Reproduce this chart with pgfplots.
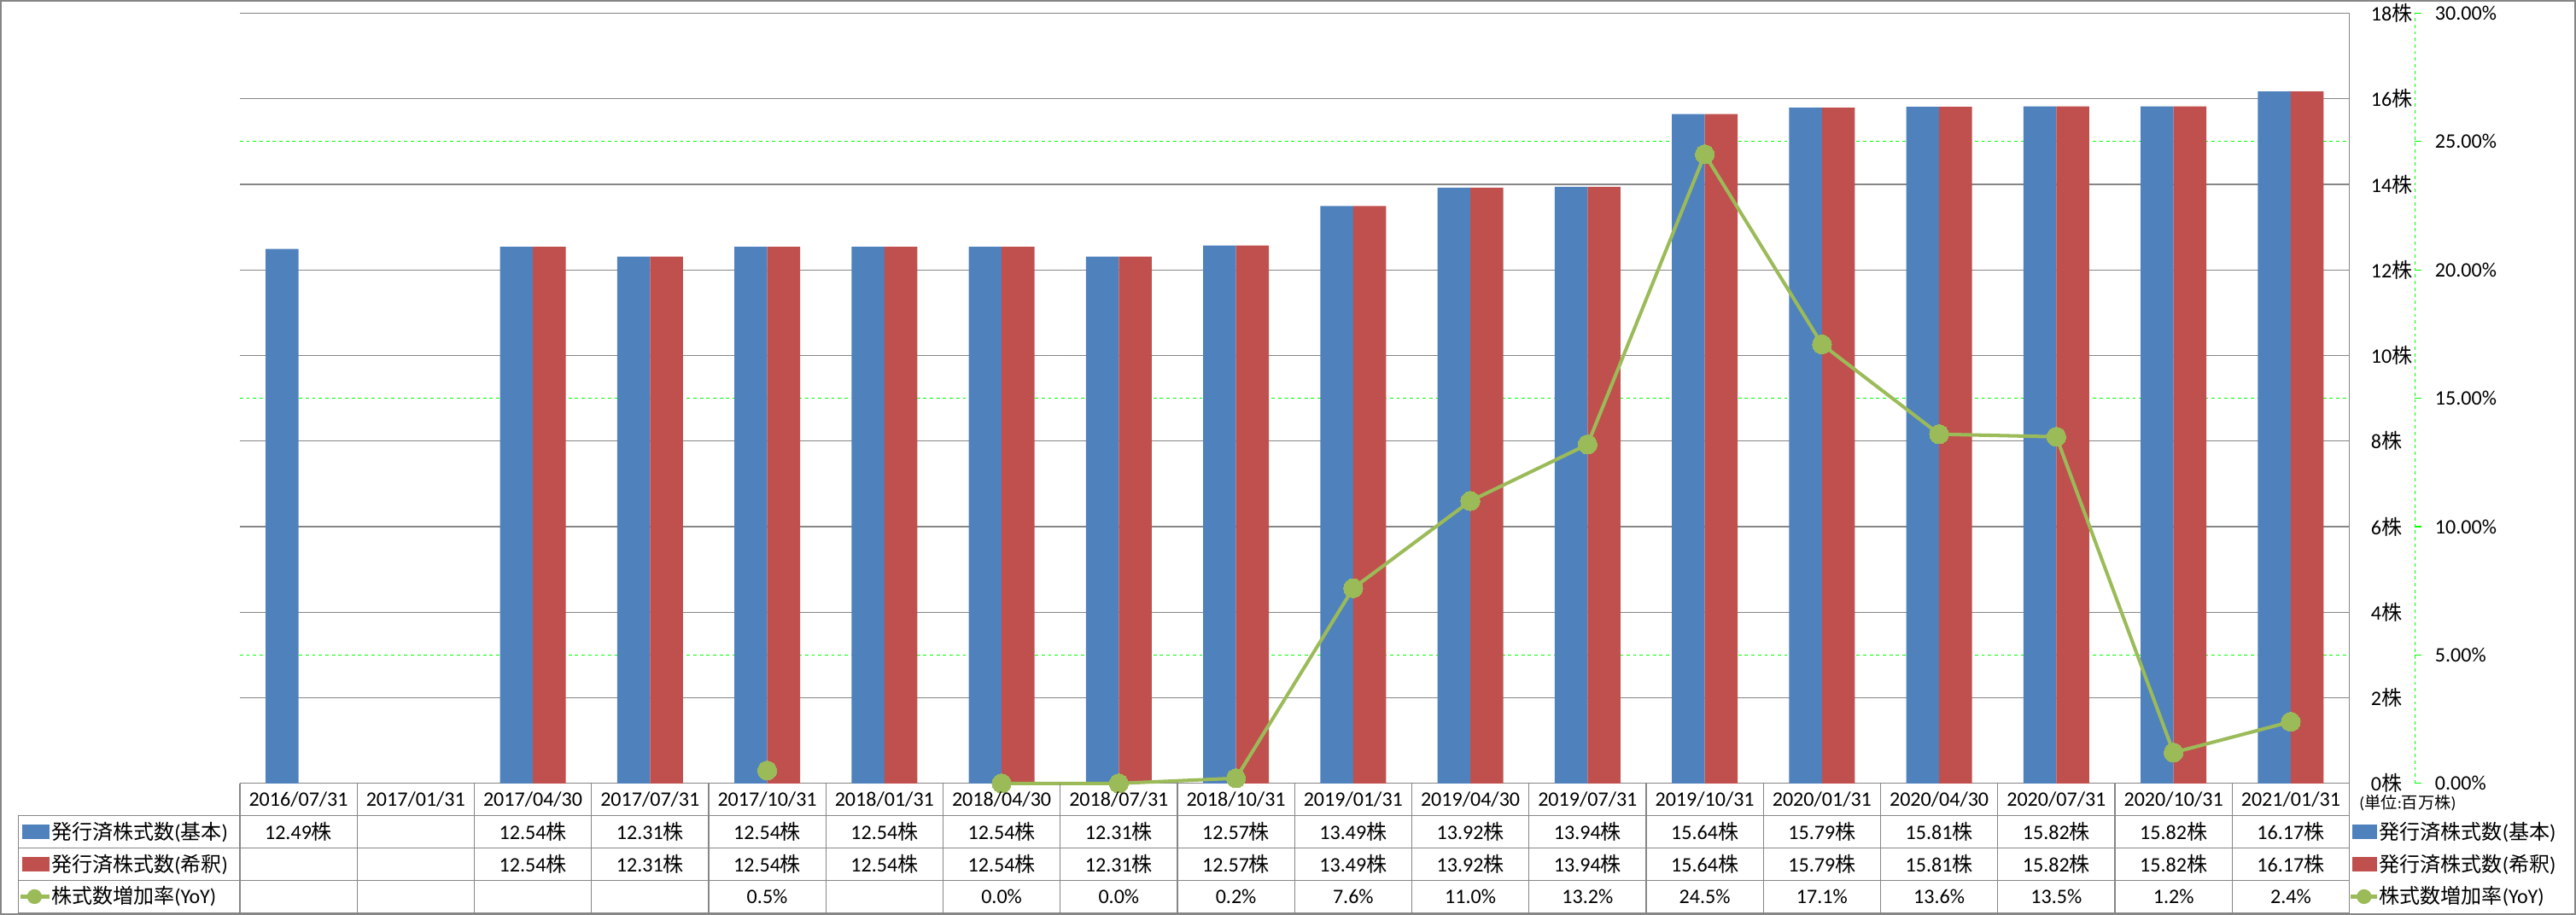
\documentclass[border=0pt]{standalone}
\usepackage{fontspec}
\setmainfont{Carlito}
\newfontfamily\cjk{Noto Sans CJK JP}
\usepackage{pgfplots}
\usepackage{pgfplotstable}
\pgfplotsset{compat=1.18}
\definecolor{barblue}{HTML}{4F81BD}
\definecolor{barred}{HTML}{C0504D}
\definecolor{linegreen}{HTML}{9BBB59}
\definecolor{gridgray}{HTML}{868686}
\definecolor{brightgreen}{HTML}{00FF00}
\newcommand\kabu{{\cjk 株}}
\pgfplotstableread{
x basic diluted yoy
0 12.49 nan nan
1 nan nan nan
2 12.54 12.54 nan
3 12.31 12.31 nan
4 12.54 12.54 0.5
5 12.54 12.54 nan
6 12.54 12.54 0.0
7 12.31 12.31 0.0
8 12.57 12.57 0.2
9 13.49 13.49 7.6
10 13.92 13.92 11.0
11 13.94 13.94 13.2
12 15.64 15.64 24.5
13 15.79 15.79 17.1
14 15.81 15.81 13.6
15 15.82 15.82 13.5
16 15.82 15.82 1.2
17 16.17 16.17 2.4
}\datatable
\begin{document}
\begin{tikzpicture}[x=1pt,y=1pt,font=\fontsize{12.5}{15}\selectfont]
\begin{axis}[
 at={(146pt,0pt)}, anchor=south west, scale only axis, width=1284pt, height=469pt,
 xmin=-0.5, xmax=17.5, ymin=0, ymax=18,
 axis x line*=bottom, axis y line*=right,
 axis line style={draw=gridgray, line width=0.6pt},
 xtick=\empty,
 ytick={0,2,...,18},
 ymajorgrids, major grid style={draw=gridgray, line width=0.6pt},
 extra y ticks={3,9,15}, extra y tick labels={},
 extra y tick style={ymajorgrids, major grid style={draw=brightgreen, dash pattern=on 2pt off 2pt, line width=0.6pt}},
 major tick length=0pt,
 yticklabel={\pgfmathprintnumber{\tick}\kabu},
 yticklabel style={anchor=west, inner sep=0pt, xshift=13pt},
 /pgf/number format/assume math mode=true,
 ybar, bar width=20pt,
]
\addplot[fill=barblue, draw=none, bar shift=-10pt] table[x=x,y=basic]{\datatable};
\addplot[fill=barred, draw=none, bar shift=10pt] table[x=x,y=diluted]{\datatable};
\end{axis}
\begin{axis}[
 at={(146pt,0pt)}, anchor=south west, scale only axis, width=1324pt, height=469pt,
 xmin=-0.5, xmax=18.0607, ymin=0, ymax=30,
 axis x line=none, axis y line*=right,
 y axis line style={draw=brightgreen, dash pattern=on 2pt off 2pt, line width=0.6pt},
 ytick={0,5,...,30},
 tick align=outside, major tick length=4pt,
 ytick style={draw=brightgreen, line width=0.6pt},
 yticklabel={\pgfmathprintnumber[fixed,fixed zerofill,precision=2]{\tick}\%},
 yticklabel style={anchor=west, inner sep=0pt, xshift=8pt},
 /pgf/number format/assume math mode=true,
 clip=false,
]
\addplot[linegreen, line width=2.1pt, mark=*, mark size=5.8pt, mark options={fill=linegreen, draw=linegreen, line width=0pt}, unbounded coords=jump] table[x=x,y=yoy]{\datatable};
\end{axis}
% data table
\foreach \k in {0,...,18} \draw[gridgray, line width=0.6pt] ({146+71.3333*\k},0) -- ++(0,-78.8);
\draw[gridgray, line width=0.6pt] (11,-19.7) -- (11,-78.8);
\foreach \yy in {-19.7,-39.4,-59.1,-78.8} \draw[gridgray, line width=0.6pt] (11,\yy) -- (1430,\yy);
\foreach \d [count=\i from 0] in {2016/07/31,2017/01/31,2017/04/30,2017/07/31,2017/10/31,2018/01/31,2018/04/30,2018/07/31,2018/10/31,2019/01/31,2019/04/30,2019/07/31,2019/10/31,2020/01/31,2020/04/30,2020/07/31,2020/10/31,2021/01/31}
  \node at ({146+71.3333*\i+35.667},-9.85) {\d};
\foreach \v [count=\i from 0] in {12.49\kabu,{},12.54\kabu,12.31\kabu,12.54\kabu,12.54\kabu,12.54\kabu,12.31\kabu,12.57\kabu,13.49\kabu,13.92\kabu,13.94\kabu,15.64\kabu,15.79\kabu,15.81\kabu,15.82\kabu,15.82\kabu,16.17\kabu}
  \node at ({146+71.3333*\i+35.667},-29.55) {\v};
\foreach \v [count=\i from 0] in {{},{},12.54\kabu,12.31\kabu,12.54\kabu,12.54\kabu,12.54\kabu,12.31\kabu,12.57\kabu,13.49\kabu,13.92\kabu,13.94\kabu,15.64\kabu,15.79\kabu,15.81\kabu,15.82\kabu,15.82\kabu,16.17\kabu}
  \node at ({146+71.3333*\i+35.667},-49.25) {\v};
\foreach \v [count=\i from 0] in {{},{},{},{},0.5\%,{},0.0\%,0.0\%,0.2\%,7.6\%,11.0\%,13.2\%,24.5\%,17.1\%,13.6\%,13.5\%,1.2\%,2.4\%}
  \node at ({146+71.3333*\i+35.667},-68.95) {\v};
% left legend
\fill[barblue] (13.5,-34) rectangle (30,-25);
\node[anchor=west, inner sep=0pt] at (31,-29.55) {{\cjk 発行済株式数}({\cjk 基本})};
\fill[barred] (13.5,-53.7) rectangle (30,-44.7);
\node[anchor=west, inner sep=0pt] at (31,-49.25) {{\cjk 発行済株式数}({\cjk 希釈})};
\draw[linegreen, line width=2.5pt] (12.5,-68.95) -- (30,-68.95);
\fill[linegreen] (21,-68.95) circle (4.5pt);
\node[anchor=west, inner sep=0pt] at (31,-68.95) {{\cjk 株式数増加率}(YoY)};
% right legend
\node[anchor=west, inner sep=0pt, font=\fontsize{10}{12}\selectfont] at (1436,-12) {({\cjk 単位}:{\cjk 百万株})};
\fill[barblue] (1432,-34) rectangle (1447,-25);
\node[anchor=west, inner sep=0pt] at (1448,-29.55) {{\cjk 発行済株式数}({\cjk 基本})};
\fill[barred] (1432,-53.7) rectangle (1447,-44.7);
\node[anchor=west, inner sep=0pt] at (1448,-49.25) {{\cjk 発行済株式数}({\cjk 希釈})};
\draw[linegreen, line width=2.5pt] (1431,-68.95) -- (1447,-68.95);
\fill[linegreen] (1439,-68.95) circle (4.5pt);
\node[anchor=west, inner sep=0pt] at (1448,-68.95) {{\cjk 株式数増加率}(YoY)};
% outer border
\draw[gridgray, line width=1pt] (0.5,-79.5) rectangle (1567.5,476.5);
\pgfresetboundingbox
\useasboundingbox (0,-80) rectangle (1568,477);
\end{tikzpicture}
\end{document}
